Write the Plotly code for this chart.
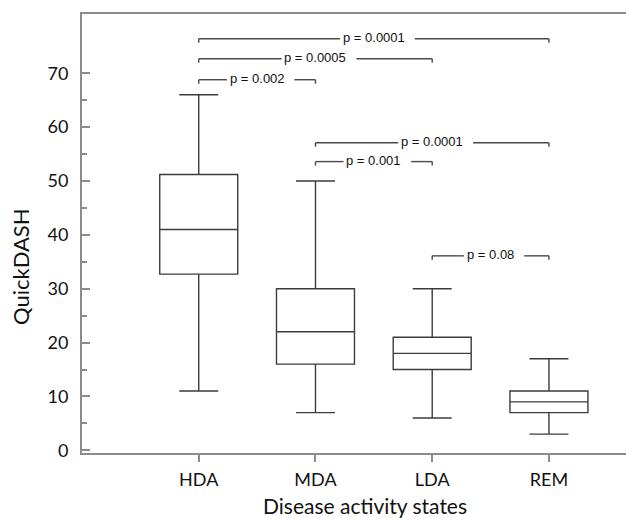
import plotly.graph_objects as go

# ---- data ----
categories = ["HDA", "MDA", "LDA", "REM"]
lower_whisker = [11, 7, 6, 3]
q1_values = [32.7, 16, 15, 7]
median_values = [41, 22, 18, 9]
q3_values = [51.2, 30, 21, 11]
upper_whisker = [66, 50, 30, 17]

bracket_from = ["HDA", "HDA", "HDA", "MDA", "MDA", "LDA"]
bracket_to = ["REM", "LDA", "MDA", "REM", "LDA", "REM"]
bracket_level = [76.4, 72.7, 68.8, 57.1, 53.6, 36.1]
bracket_label = ["p = 0.0001", "p = 0.0005", "p = 0.002", "p = 0.0001", "p = 0.001", "p = 0.08"]

y_ticks = [0, 10, 20, 30, 40, 50, 60, 70]
y_minor_ticks = [5, 15, 25, 35, 45, 55, 65]

# ---- geometry helpers ----
W, H = 626, 518
ML, MR, MT, MB = 82, 0, 14, 65
PW, PH = W - ML - MR, H - MT - MB
X_RANGE = [-1.0, 3.66]
Y_RANGE = [-0.5, 81.0]
px_per_x = PW / (X_RANGE[1] - X_RANGE[0])
px_per_y = PH / (Y_RANGE[1] - Y_RANGE[0])

pos = {c: i for i, c in enumerate(categories)}
xs = list(range(len(categories)))

AXIS_COLOR = "#8c8c8c"
LINE_COLOR = "#3c3c3c"

fig = go.Figure()
fig.add_trace(go.Box(
    x=xs, q1=q1_values, median=median_values, q3=q3_values,
    lowerfence=lower_whisker, upperfence=upper_whisker,
    width=0.668, whiskerwidth=0.5,
    fillcolor="white", line=dict(color=LINE_COLOR, width=1.4),
    boxpoints=False, showlegend=False, hoverinfo="skip",
))

# Arial-like character widths (em)
cw = {"p": 0.556, " ": 0.278, "=": 0.584, ".": 0.278}
def text_width(s, size):
    return sum(cw.get(ch, 0.556) for ch in s) * size

FS = 13
shapes = []
annotations = []
tick_dy = 4 / px_per_y
for a, b, lvl, lab in zip(bracket_from, bracket_to, bracket_level, bracket_label):
    x0, x1 = pos[a], pos[b]
    mid = (x0 + x1) / 2
    tw = text_width(lab, FS)
    gl = mid - (tw / 2 + 3) / px_per_x
    gr = mid + (tw / 2 + 10) / px_per_x
    ln = dict(color="#4a4a4a", width=1.4)
    shapes.append(dict(type="line", xref="x", yref="y", x0=x0, x1=gl, y0=lvl, y1=lvl, line=ln))
    shapes.append(dict(type="line", xref="x", yref="y", x0=gr, x1=x1, y0=lvl, y1=lvl, line=ln))
    shapes.append(dict(type="line", xref="x", yref="y", x0=x0, x1=x0, y0=lvl, y1=lvl - tick_dy, line=ln))
    shapes.append(dict(type="line", xref="x", yref="y", x0=x1, x1=x1, y0=lvl, y1=lvl - tick_dy, line=ln))
    annotations.append(dict(x=mid, y=lvl, xref="x", yref="y", text=lab, showarrow=False,
                            xanchor="center", yanchor="middle", yshift=1,
                            font=dict(family="Liberation Sans, Arial", size=FS, color="#111")))

# axis titles (as annotations, positioned like the reference)
annotations.append(dict(x=(365 - ML) / PW, y=(H - MB - 505) / PH, xref="paper", yref="paper",
                        text="Disease activity states", showarrow=False,
                        xanchor="center", yanchor="middle",
                        font=dict(family="Lato", size=21, color="#111")))
annotations.append(dict(x=(20 - ML) / PW, y=(H - MB - 267) / PH, xref="paper", yref="paper",
                        text="QuickDASH", showarrow=False, textangle=-90,
                        xanchor="center", yanchor="middle",
                        font=dict(family="Lato", size=22, color="#111")))

fig.update_layout(
    width=W, height=H,
    margin=dict(l=ML, r=MR, t=MT, b=MB, pad=0),
    paper_bgcolor="white", plot_bgcolor="white",
    shapes=shapes, annotations=annotations,
    xaxis=dict(range=X_RANGE, tickvals=xs, ticktext=categories,
               showline=True, linecolor=AXIS_COLOR, linewidth=2, mirror=True,
               ticks="outside", ticklen=7, tickcolor=AXIS_COLOR, tickwidth=1.5,
               showgrid=False, zeroline=False, ticklabelstandoff=2,
               tickfont=dict(family="Lato", size=18, color="#111")),
    yaxis=dict(range=Y_RANGE, tickvals=y_ticks,
               showline=True, linecolor=AXIS_COLOR, linewidth=2,
               ticks="inside", ticklen=8, tickcolor=AXIS_COLOR, tickwidth=1.5,
               minor=dict(tickvals=y_minor_ticks, ticks="inside", ticklen=5,
                          tickcolor=AXIS_COLOR, tickwidth=1.5, showgrid=False),
               showgrid=False, zeroline=False, ticklabelstandoff=8,
               tickfont=dict(family="Lato", size=18, color="#111")),
)

fig.write_html("out.html", config={"displayModeBar": False},
               post_script="document.body.style.margin='0';")
